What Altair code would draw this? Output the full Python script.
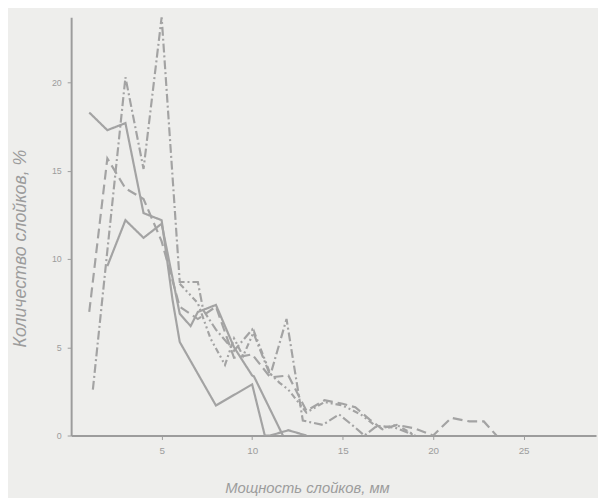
import altair as alt
import pandas as pd

# (thickness of layers, mm vs share of layers, %)
s1_x = [1, 2, 3, 4, 5, 5.6, 6, 7, 8, 9, 10, 10.7, 11, 12, 13]
s1_y = [18.3, 17.3, 17.7, 12.6, 12.2, 7.7, 5.3, 3.5, 1.7, 2.3, 2.9, 0, 0, 0.3, 0]

s2_x = [1, 2, 3, 4, 5, 6, 7, 8, 9, 10, 11, 12, 13, 14, 15, 15.7, 16.5, 17.2, 18, 19, 20, 21, 22, 22.8, 23.5]
s2_y = [7.0, 15.7, 14.0, 13.4, 11.0, 7.3, 6.6, 7.3, 4.4, 4.6, 3.3, 3.4, 1.4, 2.0, 1.8, 1.6, 0.9, 0.35, 0.6, 0.4, 0.0, 1.0, 0.8, 0.8, 0.0]

s3_x = [2, 3, 4, 5, 6, 6.6, 7, 8, 9, 10, 10.1, 11.7]
s3_y = [9.6, 12.2, 11.2, 12.0, 6.9, 6.2, 7.0, 7.4, 5.0, 3.4, 3.35, 0]

s4_x = [1.2, 3, 4, 5, 6, 7, 7.3, 8, 9, 10, 11, 11.9, 12.8, 13.9, 14.8, 15.7, 16.2, 16.9, 17.9, 19]
s4_y = [2.6, 20.3, 15.1, 23.7, 8.7, 8.7, 7.1, 6.0, 4.8, 6.0, 3.4, 6.6, 0.85, 0.6, 1.2, 0.45, 0.0, 0.55, 0.45, 0.0]

s5_x = [6, 7, 7.7, 8.5, 9, 9.5, 10.1, 11, 11.5, 12, 13, 14, 15, 16, 17, 18, 19]
s5_y = [8.6, 7.5, 5.5, 4.0, 5.5, 4.5, 5.9, 3.5, 3.0, 2.6, 1.3, 1.9, 1.7, 1.2, 0.4, 0.6, 0.0]

names = ["s1", "s2", "s3", "s4", "s5"]
xs = [s1_x, s2_x, s3_x, s4_x, s5_x]
ys = [s1_y, s2_y, s3_y, s4_y, s5_y]

rows = []
for n, xx, yy in zip(names, xs, ys):
    for i, (a, b) in enumerate(zip(xx, yy)):
        rows.append({"series": n, "x": a, "y": b, "order": i})
df = pd.DataFrame(rows)

x_ticks = [5, 10, 15, 20, 25]
y_ticks = [0, 5, 10, 15, 20]

grey = "#9c9c9c"
font = "Liberation Sans"

lines = alt.Chart(df).mark_line(strokeWidth=2.2, color="#a3a3a3", clip=True).encode(
    x=alt.X("x:Q", scale=alt.Scale(domain=[0, 29], nice=False, zero=True),
            axis=alt.Axis(values=x_ticks, title="Мощность   слойков, мм",
                          titleX=239, titleY=46, titleFontSize=15, titleFontStyle="italic",
                          titleFontWeight="normal", titleColor=grey, titleFont=font,
                          labelFontSize=10, labelColor=grey, labelFont=font,
                          tickSize=4, tickColor=grey, domainColor=grey, domainWidth=2,
                          labelPadding=6, grid=False)),
    y=alt.Y("y:Q", scale=alt.Scale(domain=[0, 23.7], nice=False),
            axis=alt.Axis(values=y_ticks, title="Количество   слойков, %",
                          titleX=-42, titleY=234, titleFontSize=18, titleFontStyle="italic",
                          titleFontWeight="normal", titleColor=grey, titleFont=font,
                          labelFontSize=9, labelColor=grey, labelFont=font,
                          tickSize=4, tickColor=grey, domainColor=grey, domainWidth=2,
                          labelPadding=6, grid=False)),
    detail="series:N",
    order="order:Q",
    strokeDash=alt.StrokeDash("series:N",
                              scale=alt.Scale(domain=names,
                                              range=[[1, 0], [10, 5], [1, 0], [9, 3, 2, 3], [6, 3, 2, 3, 2, 3]]),
                              legend=None),
)

chart = lines.properties(
    width=532, height=424,
    autosize=alt.AutoSizeParams(type="none"),
    padding={"left": 64, "top": 6, "right": 2, "bottom": 60},
    background="#eeeeec",
).configure_view(stroke=None)

chart.save("out.html", embed_options={"renderer": "svg", "actions": False})
